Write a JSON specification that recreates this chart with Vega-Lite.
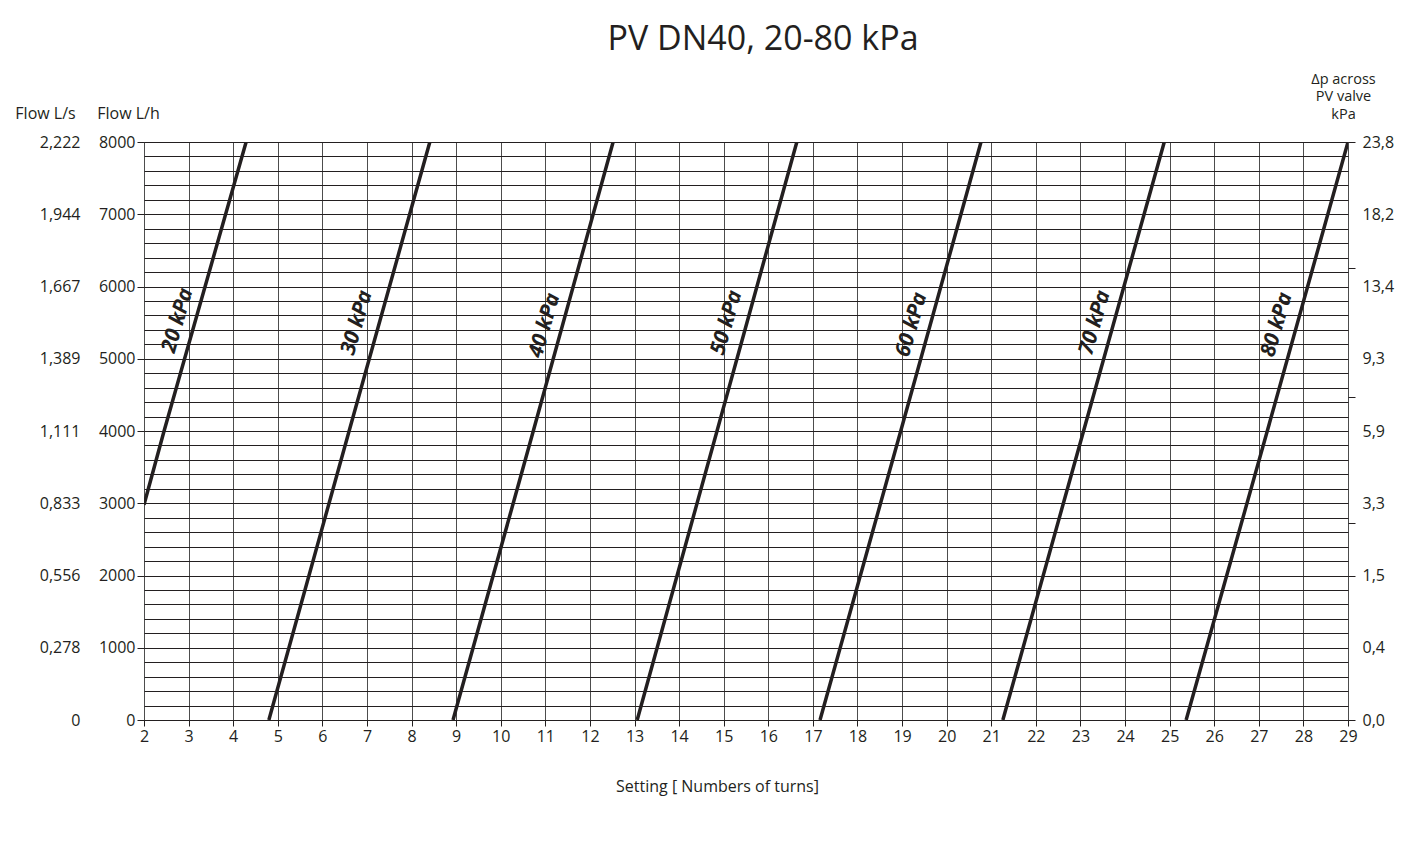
{
  "$schema": "https://vega.github.io/schema/vega-lite/v6.json",
  "autosize": {"type": "none"},
  "width": 1204,
  "height": 578,
  "padding": {"left": 144, "top": 142, "right": 79, "bottom": 126},
  "background": "white",
  "title": {
    "text": "PV DN40, 20-80 kPa",
    "font": "Open Sans",
    "fontSize": 34,
    "fontWeight": "normal",
    "color": "#231f20",
    "anchor": "middle",
    "frame": "group",
    "dx": 17,
    "offset": 14
  },
  "config": {
    "view": {"stroke": "#231f20", "strokeWidth": 1},
    "axis": {
      "labelFont": "Open Sans",
      "titleFont": "Open Sans",
      "labelFontSize": 16,
      "titleFontSize": 16,
      "titleFontWeight": "normal",
      "labelColor": "#231f20",
      "titleColor": "#231f20",
      "tickColor": "#231f20",
      "labelFlush": false,
      "labelOverlap": false,
      "domain": false
    }
  },
  "datasets": {
    "lines": [
      {"series": "20 kPa", "setting": 2.0, "flow": 2980},
      {"series": "20 kPa", "setting": 2.45, "flow": 4000},
      {"series": "20 kPa", "setting": 4.29, "flow": 8000},
      {"series": "30 kPa", "setting": 4.8, "flow": 0},
      {"series": "30 kPa", "setting": 6.6, "flow": 4000},
      {"series": "30 kPa", "setting": 8.41, "flow": 8000},
      {"series": "40 kPa", "setting": 8.93, "flow": 0},
      {"series": "40 kPa", "setting": 10.73, "flow": 4000},
      {"series": "40 kPa", "setting": 12.52, "flow": 8000},
      {"series": "50 kPa", "setting": 13.06, "flow": 0},
      {"series": "50 kPa", "setting": 14.85, "flow": 4000},
      {"series": "50 kPa", "setting": 16.64, "flow": 8000},
      {"series": "60 kPa", "setting": 17.16, "flow": 0},
      {"series": "60 kPa", "setting": 18.97, "flow": 4000},
      {"series": "60 kPa", "setting": 20.77, "flow": 8000},
      {"series": "70 kPa", "setting": 21.26, "flow": 0},
      {"series": "70 kPa", "setting": 23.07, "flow": 4000},
      {"series": "70 kPa", "setting": 24.88, "flow": 8000},
      {"series": "80 kPa", "setting": 25.37, "flow": 0},
      {"series": "80 kPa", "setting": 27.19, "flow": 4000},
      {"series": "80 kPa", "setting": 29.0, "flow": 8000}
    ],
    "labels": [
      {"label": "20 kPa", "setting": 2.76, "flow": 5530},
      {"label": "30 kPa", "setting": 6.78, "flow": 5500},
      {"label": "40 kPa", "setting": 10.99, "flow": 5460},
      {"label": "50 kPa", "setting": 15.07, "flow": 5500},
      {"label": "60 kPa", "setting": 19.22, "flow": 5470},
      {"label": "70 kPa", "setting": 23.33, "flow": 5500},
      {"label": "80 kPa", "setting": 27.41, "flow": 5470}
    ]
  },
  "resolve": {"axis": {"x": "independent", "y": "independent"}},
  "layer": [
    {
      "data": {"name": "lines"},
      "mark": {"type": "line", "color": "#231f20", "strokeWidth": 3.5, "clip": true},
      "encoding": {
        "x": {
          "field": "setting", "type": "quantitative",
          "scale": {"domain": [2, 29], "nice": false, "zero": false},
          "axis": {
            "values": [2,3,4,5,6,7,8,9,10,11,12,13,14,15,16,17,18,19,20,21,22,23,24,25,26,27,28,29],
            "format": "d",
            "grid": true, "gridColor": "#4d4d4d", "gridOpacity": 1, "gridWidth": 1,
            "tickSize": 6, "labelPadding": 2,
            "title": "Setting [ Numbers of turns]",
            "titleX": 573, "titleY": 66, "titleAlign": "center", "titleBaseline": "middle", "titlePadding": 0
          }
        },
        "y": {
          "field": "flow", "type": "quantitative",
          "scale": {"domain": [0, 8000], "nice": false, "zero": true},
          "axis": {
            "orient": "left",
            "values": [0,200,400,600,800,1000,1200,1400,1600,1800,2000,2200,2400,2600,2800,3000,3200,3400,3600,3800,4000,4200,4400,4600,4800,5000,5200,5400,5600,5800,6000,6200,6400,6600,6800,7000,7200,7400,7600,7800,8000],
            "grid": true, "gridColor": "#231f20", "gridOpacity": 1, "gridWidth": 1,
            "labels": false, "ticks": false, "title": null
          }
        },
        "detail": {"field": "series"}
      }
    },
    {
      "data": {"name": "labels"},
      "mark": {"type": "text", "font": "Open Sans", "fontSize": 21, "fontWeight": "bold", "fontStyle": "italic", "angle": -74, "color": "#231f20", "align": "center", "baseline": "middle"},
      "encoding": {
        "x": {"field": "setting", "type": "quantitative", "axis": null},
        "y": {
          "field": "flow", "type": "quantitative",
          "axis": {
            "orient": "left",
            "values": [0,1000,2000,3000,4000,5000,6000,7000,8000],
            "format": "d",
            "grid": false, "tickSize": 7, "labelPadding": 2,
            "title": "Flow L/h", "titleAngle": 0, "titleX": -16, "titleY": -29,
            "titleAlign": "center", "titleBaseline": "middle"
          }
        },
        "text": {"field": "label"}
      }
    },
    {
      "data": {"name": "lines"},
      "mark": {"type": "line", "opacity": 0},
      "encoding": {
        "x": {"field": "setting", "type": "quantitative", "axis": null},
        "y": {
          "field": "flow", "type": "quantitative",
          "axis": {
            "orient": "left", "offset": 60,
            "values": [0,1000,2000,3000,4000,5000,6000,7000,8000],
            "labelExpr": "['0','0,278','0,556','0,833','1,111','1,389','1,667','1,944','2,222'][round(datum.value/1000)]",
            "grid": false, "ticks": false, "labelPadding": 4,
            "title": "Flow L/s", "titleAngle": 0, "titleX": -39, "titleY": -29,
            "titleAlign": "center", "titleBaseline": "middle"
          }
        },
        "detail": {"field": "series"}
      }
    },
    {
      "data": {"name": "lines"},
      "mark": {"type": "line", "opacity": 0},
      "encoding": {
        "x": {"field": "setting", "type": "quantitative", "axis": null},
        "y": {
          "field": "flow", "type": "quantitative",
          "axis": {
            "orient": "right",
            "values": [0,1000,2000,2723,3000,4000,4475,5000,6000,6260,7000,8000],
            "labelExpr": "datum.value % 1000 == 0 ? ['0,0','0,4','1,5','3,3','5,9','9,3','13,4','18,2','23,8'][round(datum.value/1000)] : ''",
            "grid": false, "tickSize": 7, "labelPadding": 7,
            "tickOpacity": {"condition": {"test": "indexof([0,2000,2723,4475,6260,8000], datum.value) >= 0", "value": 1}, "value": 0},
            "title": ["Δp across", "PV valve", "kPa"], "titleAngle": 0, "titleX": -5, "titleY": -63,
            "titleFontSize": 14.5, "titleAlign": "center", "titleBaseline": "middle", "titleLineHeight": 17.5
          }
        },
        "detail": {"field": "series"}
      }
    }
  ]
}
